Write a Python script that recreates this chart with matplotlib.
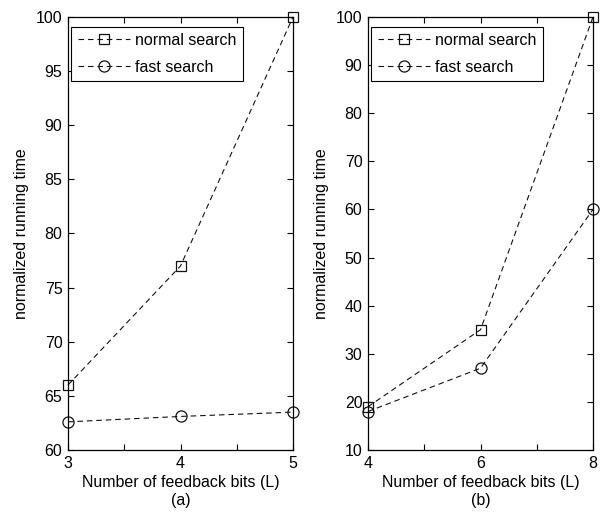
import matplotlib
matplotlib.use("Agg")
import matplotlib.pyplot as plt
from matplotlib.ticker import MultipleLocator, FixedLocator

plt.rcParams['font.family'] = ['Liberation Sans', 'DejaVu Sans']

# Data
bits_a = [3, 4, 5]
normal_a = [66, 77, 100]
fast_a = [62.6, 63.1, 63.5]

bits_b = [4, 6, 8]
normal_b = [19, 35, 100]
fast_b = [18, 27, 60]

W, H = 603, 514
fig = plt.figure(figsize=(W / 100, H / 100), dpi=100)

def make_ax(left, right, top, bottom):
    return fig.add_axes([left / W, 1 - bottom / H, (right - left) / W, (bottom - top) / H])

ax1 = make_ax(68, 293, 17, 450)
ax2 = make_ax(368, 593, 17, 450)

fs = 11.5
for ax, x, yn, yf, xt, xlab_ticks, ylim, ystep, sub in [
    (ax1, bits_a, normal_a, fast_a, [3, 3.5, 4, 4.5, 5], [3, 4, 5], (60, 100), 5, '(a)'),
    (ax2, bits_b, normal_b, fast_b, [4, 5, 6, 7, 8], [4, 6, 8], (10, 100), 10, '(b)'),
]:
    ax.plot(x, yn, linestyle=(0, (5, 3.5)), color='#111111', linewidth=0.8,
            marker='s', markersize=7, markerfacecolor='none', markeredgewidth=0.9,
            label='normal search', clip_on=False)
    ax.plot(x, yf, linestyle=(0, (5, 3.5)), color='#111111', linewidth=0.8,
            marker='o', markersize=8, markerfacecolor='none', markeredgewidth=0.9,
            label='fast search', clip_on=False)
    ax.set_xlim(x[0], x[-1])
    ax.set_ylim(*ylim)
    ax.xaxis.set_major_locator(FixedLocator(xt))
    ax.set_xticklabels([str(int(v)) if v in xlab_ticks else '' for v in xt])
    ax.yaxis.set_major_locator(MultipleLocator(ystep))
    ax.tick_params(direction='in', top=True, right=True, labelsize=fs, length=4, width=0.8, pad=4)
    for s in ax.spines.values():
        s.set_linewidth(0.9)
    ax.set_xlabel('Number of feedback bits (L)\n' + sub, fontsize=fs, linespacing=1.25, labelpad=3)
    ax.set_ylabel('normalized running time', fontsize=fs, labelpad=5)
    leg = ax.legend(loc='upper left', fontsize=fs, frameon=True, fancybox=False,
                    edgecolor='black', framealpha=1, handlelength=3.3,
                    borderaxespad=0.2, labelspacing=0.75, handletextpad=0.3, borderpad=0.4,
                    bbox_to_anchor=(0.0, 0.985))
    leg.get_frame().set_linewidth(0.8)

fig.savefig('out.png', dpi=100)
